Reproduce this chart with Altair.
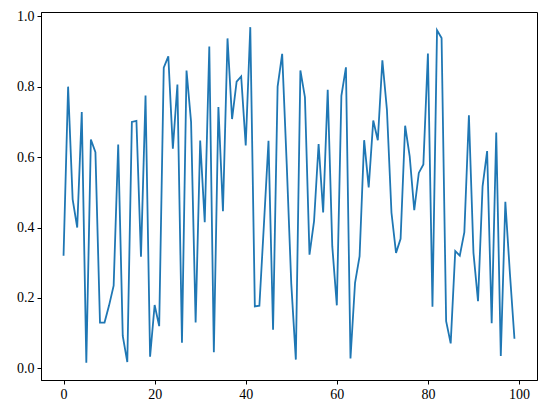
import altair as alt
import pandas as pd

index = list(range(100))
values = [
    0.32, 0.80, 0.48, 0.40, 0.728, 0.016, 0.65, 0.614, 0.13, 0.13,
    0.179, 0.235, 0.636, 0.092, 0.018, 0.70, 0.703, 0.317, 0.775, 0.033,
    0.18, 0.12, 0.854, 0.886, 0.624, 0.806, 0.073, 0.846, 0.70, 0.13,
    0.647, 0.415, 0.914, 0.046, 0.742, 0.446, 0.937, 0.708, 0.814, 0.829,
    0.633, 0.969, 0.176, 0.178, 0.41, 0.646, 0.11, 0.80, 0.893, 0.58,
    0.24, 0.025, 0.846, 0.77, 0.323, 0.418, 0.637, 0.443, 0.791, 0.347,
    0.179, 0.774, 0.855, 0.028, 0.243, 0.319, 0.648, 0.514, 0.704, 0.648,
    0.875, 0.735, 0.442, 0.328, 0.368, 0.689, 0.602, 0.449, 0.555, 0.579,
    0.894, 0.175, 0.96, 0.938, 0.134, 0.071, 0.333, 0.32, 0.387, 0.719,
    0.328, 0.191, 0.517, 0.617, 0.128, 0.67, 0.035, 0.473, 0.27, 0.084,
]

x_ticks = [0, 20, 40, 60, 80, 100]
y_ticks = [0.0, 0.2, 0.4, 0.6, 0.8, 1.0]

df = pd.DataFrame({"i": index, "v": values})

font = "Times New Roman, Liberation Serif, serif"

chart = (
    alt.Chart(df)
    .mark_line(color="#1f77b4", strokeWidth=1.8, clip=True)
    .encode(
        x=alt.X(
            "i:Q",
            scale=alt.Scale(domain=[-4.95, 103.95], nice=False, zero=False),
            axis=alt.Axis(values=x_ticks, title=None, format="d"),
        ),
        y=alt.Y(
            "v:Q",
            scale=alt.Scale(domain=[-0.033, 1.012], nice=False, zero=False),
            axis=alt.Axis(values=y_ticks, title=None, format=".1f"),
        ),
    )
    .properties(
        width=496,
        height=368,
        autosize=alt.AutoSizeParams(type="none"),
        padding={"left": 41, "top": 12, "right": 9, "bottom": 36},
    )
    .configure_view(stroke="black", strokeWidth=1)
    .configure_axis(
        grid=False,
        domain=True,
        domainColor="black",
        domainWidth=1,
        tickColor="black",
        tickSize=4,
        tickWidth=1,
        labelFont=font,
        labelFontSize=14,
        labelColor="black",
        labelPadding=3,
    )
)

chart.save("out.html", embed_options={"renderer": "svg", "actions": False})
